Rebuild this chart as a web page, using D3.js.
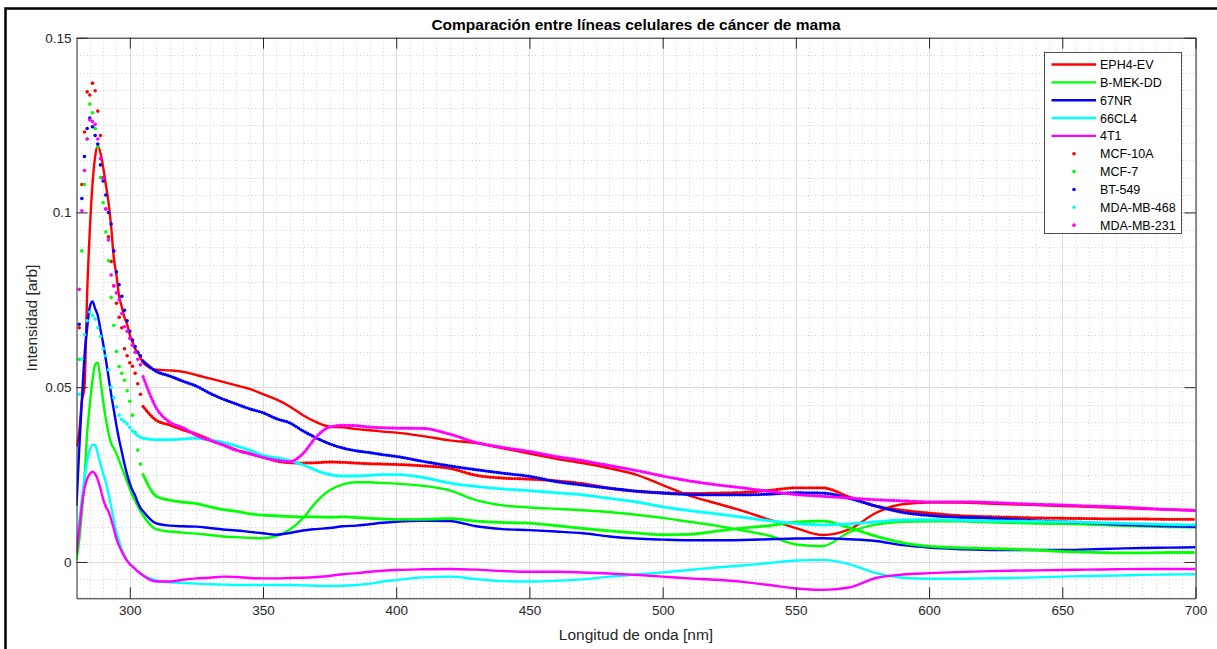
<!DOCTYPE html>
<html>
<head>
<meta charset="utf-8">
<script src="https://cdn.jsdelivr.net/npm/d3@7/dist/d3.min.js"></script>
<style>
    body { margin: 0; background: #ffffff; }
    text { font-family: "Liberation Sans", Arial, Helvetica, sans-serif; }
</style>
</head>
<body>
<svg id="chart" width="1217" height="649"></svg>
<script>

// Wavelength grid [nm]
const wavelengths = [
    280, 281, 282, 283, 284, 285, 286, 287, 288, 289, 290, 291, 292, 293, 294, 295, 296, 297, 298, 299, 300, 301, 302, 303, 304, 305,
    310, 315, 320, 325, 330, 335, 340, 345, 350, 355, 360, 365, 370, 375, 380, 385, 390, 395, 400,
    410, 420, 430, 440, 450, 460, 470, 480, 490, 500, 510, 520, 530, 540, 550, 560, 570, 580, 590, 600, 610, 620, 630, 640, 650, 660, 670, 680, 690, 700
];

// Tick values
const xTicks = [300, 350, 400, 450, 500, 550, 600, 650, 700];
const yTicks = [0, 0.05, 0.1, 0.15];

// Murine cell lines (solid lines)
const eph4ev = [
    0.033, 0.037, 0.046, 0.050, 0.077, 0.095, 0.108, 0.116, 0.119, 0.117, 0.113, 0.108, 0.103, 0.096, 0.087, 0.082, 0.076, 0.073, 0.070, 0.068, 0.065, 0.063, 0.061, 0.060, 0.0585, 0.057,
    0.055, 0.0548, 0.0544, 0.0535, 0.0525, 0.0515, 0.0505, 0.0495, 0.048, 0.0465, 0.0445, 0.042, 0.040, 0.0387, 0.0385, 0.038, 0.0377, 0.0373, 0.037,
    0.036, 0.0348, 0.034, 0.0325, 0.031, 0.0295, 0.0283, 0.0268, 0.025, 0.022, 0.019, 0.0168, 0.0146, 0.0121, 0.0097, 0.0077, 0.0093, 0.014, 0.0165, 0.017, 0.017, 0.0168, 0.0165, 0.0163, 0.016, 0.0158, 0.0155, 0.0152, 0.015, 0.0148
];
const bmekdd = [
    0.0006, 0.006, 0.014, 0.024, 0.037, 0.045, 0.052, 0.0565, 0.057, 0.052, 0.046, 0.041, 0.037, 0.034, 0.0325, 0.031, 0.029, 0.027, 0.025, 0.023, 0.021, 0.019, 0.0175, 0.016, 0.0145, 0.0133,
    0.0093, 0.0087, 0.0084, 0.0081, 0.0077, 0.0073, 0.0071, 0.0069, 0.0068, 0.0074, 0.0092, 0.0125, 0.0172, 0.0205, 0.0222, 0.0228, 0.0228, 0.0226, 0.0224,
    0.0218, 0.0205, 0.0177, 0.0162, 0.0156, 0.0152, 0.0148, 0.0143, 0.0135, 0.0126, 0.0115, 0.0104, 0.009, 0.0075, 0.005, 0.0045, 0.0085, 0.0107, 0.0115, 0.0116, 0.0116, 0.0114, 0.0112, 0.011, 0.0109, 0.0107, 0.0104, 0.0102, 0.010, 0.0099
];
const nr67 = [
    0.016, 0.032, 0.046, 0.059, 0.067, 0.073, 0.0745, 0.0725, 0.0705, 0.0665, 0.0625, 0.058, 0.053, 0.048, 0.0435, 0.039, 0.035, 0.0315, 0.028, 0.025, 0.0225, 0.0205, 0.019, 0.017, 0.0155, 0.0145,
    0.011, 0.0104, 0.0102, 0.0101, 0.0097, 0.0093, 0.009, 0.0086, 0.0082, 0.0078, 0.0083, 0.009, 0.0094, 0.0097, 0.0102, 0.0104, 0.0108, 0.0112, 0.0115,
    0.0118, 0.0117, 0.0102, 0.0094, 0.0091, 0.0087, 0.0082, 0.0073, 0.0067, 0.0064, 0.0062, 0.0062, 0.0063, 0.0065, 0.0067, 0.0068, 0.0065, 0.006, 0.0048, 0.0041, 0.0037, 0.0035, 0.0034, 0.0034, 0.0034, 0.0036, 0.0038, 0.004, 0.0041, 0.0042
];
const cl66 = [
    0.0044, 0.011, 0.018, 0.024, 0.029, 0.032, 0.0335, 0.0335, 0.031, 0.028, 0.0254, 0.0228, 0.0195, 0.0158, 0.012, 0.0085, 0.006, 0.0035, 0.0018, 0.0005, -0.0005, -0.0013, -0.002, -0.0027, -0.0033, -0.0038,
    -0.0053, -0.0058, -0.006, -0.0062, -0.0064, -0.0065, -0.0066, -0.0066, -0.0066, -0.0066, -0.0066, -0.0067, -0.0068, -0.0069, -0.0068, -0.0066, -0.0062, -0.0056, -0.0052,
    -0.0044, -0.0042, -0.0049, -0.0055, -0.0056, -0.0054, -0.005, -0.0042, -0.0036, -0.003, -0.0023, -0.0016, -0.001, -0.0003, 0.0004, 0.0006, -0.0006, -0.0032, -0.0045, -0.0048, -0.0048, -0.0047, -0.0046, -0.0044, -0.0042, -0.004, -0.0039, -0.0037, -0.0036, -0.0035
];
const t41 = [
    0.0025, 0.009, 0.016, 0.021, 0.0238, 0.0252, 0.0258, 0.0252, 0.0235, 0.021, 0.018, 0.0158, 0.0145, 0.0122, 0.0095, 0.0066, 0.0046, 0.003, 0.0015, 0.0003, -0.0006, -0.0013, -0.002, -0.0027, -0.0033, -0.0039,
    -0.0056, -0.0056, -0.0051, -0.0047, -0.0045, -0.0042, -0.0043, -0.0046, -0.0047, -0.0047, -0.0046, -0.0045, -0.0043, -0.004, -0.0035, -0.0032, -0.0028, -0.0025, -0.0023,
    -0.0021, -0.002, -0.0022, -0.0026, -0.0028, -0.0028, -0.003, -0.0033, -0.0037, -0.0042, -0.0047, -0.0051, -0.0057, -0.0066, -0.0076, -0.008, -0.0073, -0.0046, -0.0036, -0.0032, -0.0029, -0.0027, -0.0025, -0.0024, -0.0023, -0.0022, -0.0021, -0.002, -0.002, -0.002
];

// Human cell lines (dots)
const mcf10a = [
    null, 0.067, 0.108, 0.123, 0.1345, 0.1336, 0.137, 0.1348, 0.129, 0.122, 0.110, 0.101, 0.093, 0.086, 0.079, 0.074, 0.070, 0.067, 0.061, 0.059, 0.057, 0.056, 0.054, 0.051, 0.048, 0.0445,
    0.0405, 0.0392, 0.0378, 0.0366, 0.035, 0.0335, 0.032, 0.031, 0.030, 0.0289, 0.0284, 0.0283, 0.0284, 0.0286, 0.0285, 0.0283, 0.0281, 0.028, 0.0279,
    0.0275, 0.0268, 0.0248, 0.024, 0.0237, 0.0232, 0.0224, 0.0211, 0.0202, 0.0198, 0.0196, 0.0197, 0.0199, 0.0205, 0.0212, 0.0212, 0.0186, 0.016, 0.0148, 0.014, 0.0133, 0.013, 0.0128, 0.0126, 0.0125, 0.0124, 0.0123, 0.0123, 0.0122, 0.0122
];
const mcf7 = [
    null, 0.058, 0.089, 0.108, 0.121, 0.131, 0.1285, 0.124, 0.1187, 0.110, 0.1028, 0.0944, 0.0862, 0.0757, 0.0677, 0.0602, 0.0559, 0.054, 0.052, 0.049, 0.046, 0.042, 0.037, 0.032, 0.028, 0.025,
    0.0188, 0.0177, 0.0171, 0.0167, 0.0158, 0.015, 0.0145, 0.0138, 0.0134, 0.0132, 0.013, 0.0129, 0.0129, 0.0128, 0.0129, 0.0127, 0.0125, 0.0123, 0.0122,
    0.0122, 0.0124, 0.0117, 0.0113, 0.0111, 0.0104, 0.0096, 0.0089, 0.0083, 0.0078, 0.0079, 0.0088, 0.0097, 0.0104, 0.0114, 0.0117, 0.0098, 0.0074, 0.0055, 0.0045, 0.0041, 0.0039, 0.0037, 0.0034, 0.003, 0.0028, 0.0026, 0.0026, 0.0027, 0.0027
];
const bt549 = [
    null, 0.068, 0.104, 0.116, 0.124, 0.127, 0.1245, 0.122, 0.1196, 0.1136, 0.109, 0.105, 0.100, 0.0967, 0.089, 0.083, 0.0793, 0.076, 0.072, 0.069, 0.066, 0.0635, 0.0616, 0.060, 0.059, 0.0575,
    0.0545, 0.0532, 0.0517, 0.0503, 0.0483, 0.0466, 0.0452, 0.0438, 0.0427, 0.041, 0.0398, 0.0375, 0.0355, 0.0338, 0.0326, 0.0318, 0.0313, 0.0307, 0.0302,
    0.0288, 0.0275, 0.0264, 0.0254, 0.0245, 0.023, 0.022, 0.0211, 0.0203, 0.0197, 0.0193, 0.0192, 0.0192, 0.0194, 0.0198, 0.0197, 0.0182, 0.016, 0.0142, 0.0133, 0.0128, 0.0126, 0.0122, 0.0118, 0.0115, 0.0112, 0.0108, 0.0105, 0.0103, 0.0101
];
const mdamb468 = [
    null, 0.048, 0.058, 0.065, 0.069, 0.0715, 0.0705, 0.0695, 0.067, 0.0645, 0.061, 0.059, 0.055, 0.050, 0.047, 0.0444, 0.042, 0.0408, 0.0402, 0.0395, 0.0385, 0.0375, 0.0368, 0.0362, 0.0357, 0.0354,
    0.035, 0.035, 0.0352, 0.0354, 0.0349, 0.0342, 0.0332, 0.032, 0.0305, 0.0298, 0.029, 0.0278, 0.0262, 0.025, 0.0246, 0.0246, 0.0248, 0.025, 0.025,
    0.0242, 0.0226, 0.0216, 0.0209, 0.0204, 0.0198, 0.0192, 0.0182, 0.0172, 0.0158, 0.0147, 0.0138, 0.0128, 0.0118, 0.011, 0.0106, 0.0109, 0.0115, 0.012, 0.0121, 0.012, 0.0118, 0.0117, 0.0116, 0.0115, 0.0113, 0.0111, 0.0109, 0.0107, 0.0106
];
const mdamb231 = [
    null, 0.078, 0.1005, 0.112, 0.121, 0.1265, 0.126, 0.1252, 0.121, 0.1154, 0.1098, 0.101, 0.0921, 0.0821, 0.079, 0.077, 0.075, 0.0711, 0.0673, 0.066, 0.064, 0.062, 0.060, 0.058, 0.0564, 0.053,
    0.044, 0.040, 0.0384, 0.0362, 0.0348, 0.0335, 0.032, 0.031, 0.0299, 0.0291, 0.0287, 0.031, 0.0358, 0.0386, 0.0391, 0.039, 0.0386, 0.0384, 0.0383,
    0.0382, 0.0366, 0.0342, 0.0328, 0.0316, 0.0302, 0.029, 0.0276, 0.0262, 0.0246, 0.0232, 0.0221, 0.0212, 0.0202, 0.0193, 0.0188, 0.0183, 0.0178, 0.0175, 0.0172, 0.0172, 0.0171, 0.0168, 0.0165, 0.0163, 0.016, 0.0158, 0.0154, 0.015, 0.0147
];

const lineNames = ["EPH4-EV", "B-MEK-DD", "67NR", "66CL4", "4T1"];
const dotNames = ["MCF-10A", "MCF-7", "BT-549", "MDA-MB-468", "MDA-MB-231"];
const colors = ["#ff0000", "#00ff00", "#0000ff", "#00ffff", "#ff00ff"];

const lineValues = [eph4ev, bmekdd, nr67, cl66, t41];
const dotValues = [mcf10a, mcf7, bt549, mdamb468, mdamb231];

// Layout
const width = 1217, height = 649;
const plot = { left: 76.5, right: 1195.5, top: 37.7, bottom: 598.3 };
const axisColor = "#262626";

const svg = d3.select("#chart");

// Scales
const x = d3.scaleLinear().domain([280, 700]).range([plot.left, plot.right]);
const y = d3.scaleLinear().domain([-0.0104, 0.15]).range([plot.bottom, plot.top]);

// White background and figure frame
svg.append("rect").attr("width", width).attr("height", height).attr("fill", "#ffffff");
svg.append("path")
    .attr("d", "M5.5," + height + "V8.5H" + (width + 2))
    .attr("fill", "none")
    .attr("stroke", "#000000")
    .attr("stroke-width", 2.5);

// Clip for data
svg.append("defs").append("clipPath").attr("id", "plotClip")
    .append("rect")
    .attr("x", plot.left).attr("y", plot.top)
    .attr("width", plot.right - plot.left).attr("height", plot.bottom - plot.top);

// Minor grid (dotted)
const gridG = svg.append("g");
const minorX = d3.range(285, 700, 5).filter(v => v % 50 != 0);
const minorY = d3.range(-10, 150, 5).map(v => v / 1000).filter(v => Math.round(v * 1000) % 50 != 0);

gridG.selectAll(".minorX").data(minorX).enter()
    .append("line")
    .attr("x1", d => Math.round(x(d)) + 0.5).attr("x2", d => Math.round(x(d)) + 0.5)
    .attr("y1", plot.top).attr("y2", plot.bottom)
    .attr("stroke", "#c8c8c8").attr("stroke-width", 0.8).attr("stroke-dasharray", "1,2.5");

gridG.selectAll(".minorY").data(minorY).enter()
    .append("line")
    .attr("x1", plot.left).attr("x2", plot.right)
    .attr("y1", d => Math.round(y(d)) + 0.5).attr("y2", d => Math.round(y(d)) + 0.5)
    .attr("stroke", "#c8c8c8").attr("stroke-width", 0.8).attr("stroke-dasharray", "1,2.5");

// Major grid (solid)
gridG.selectAll(".majorX").data(xTicks).enter()
    .append("line")
    .attr("x1", d => Math.round(x(d)) + 0.5).attr("x2", d => Math.round(x(d)) + 0.5)
    .attr("y1", plot.top).attr("y2", plot.bottom)
    .attr("stroke", "#dcdcdc").attr("stroke-width", 1);

gridG.selectAll(".majorY").data(yTicks).enter()
    .append("line")
    .attr("x1", plot.left).attr("x2", plot.right)
    .attr("y1", d => Math.round(y(d)) + 0.5).attr("y2", d => Math.round(y(d)) + 0.5)
    .attr("stroke", "#dcdcdc").attr("stroke-width", 1);

// Data group
const dataG = svg.append("g").attr("clip-path", "url(#plotClip)");

const toPoints = values => wavelengths.map((w, i) => ({ x: w, y: values[i] }));

const line = d3.line()
    .defined(d => d.y != null)
    .x(d => x(d.x))
    .y(d => y(d.y))
    .curve(d3.curveMonotoneX);

// Solid lines
lineValues.forEach((values, i) => {
    dataG.append("path")
        .datum(toPoints(values))
        .attr("d", line)
        .attr("fill", "none")
        .attr("stroke", colors[i])
        .attr("stroke-width", 2.4)
        .attr("stroke-linejoin", "round");
});

// Dotted series: single markers on the peak, dotted trace on the slow tail
const tailStart = wavelengths.indexOf(305);
dotValues.forEach((values, i) => {
    let pts = toPoints(values);

    dataG.append("path")
        .datum(pts.slice(tailStart))
        .attr("d", line)
        .attr("fill", "none")
        .attr("stroke", colors[i])
        .attr("stroke-width", 3.3)
        .attr("stroke-linecap", "round")
        .attr("stroke-dasharray", "0,2.66");

    dataG.selectAll(null)
        .data(pts.slice(0, tailStart).filter(d => d.y != null))
        .enter()
        .append("circle")
        .attr("cx", d => x(d.x))
        .attr("cy", d => y(d.y))
        .attr("r", 1.8)
        .attr("fill", colors[i]);
});

// Axes (ticks inward, box on)
const tickLen = 11;
const xAxis = svg.append("g")
    .attr("transform", "translate(0," + plot.bottom + ")")
    .call(d3.axisBottom(x).tickValues(xTicks).tickSizeInner(-tickLen).tickSizeOuter(0).tickPadding(7).tickFormat(d => String(d)));
const xAxisTop = svg.append("g")
    .attr("transform", "translate(0," + plot.top + ")")
    .call(d3.axisTop(x).tickValues(xTicks).tickSizeInner(-tickLen).tickSizeOuter(0).tickFormat(""));
const yAxis = svg.append("g")
    .attr("transform", "translate(" + plot.left + ",0)")
    .call(d3.axisLeft(y).tickValues(yTicks).tickSizeInner(-tickLen).tickSizeOuter(0).tickPadding(5).tickFormat(d => String(d)));
const yAxisRight = svg.append("g")
    .attr("transform", "translate(" + plot.right + ",0)")
    .call(d3.axisRight(y).tickValues(yTicks).tickSizeInner(-tickLen).tickSizeOuter(0).tickFormat(""));

[xAxis, xAxisTop, yAxis, yAxisRight].forEach(g => {
    g.selectAll("path.domain").attr("stroke", axisColor).attr("stroke-width", 1);
    g.selectAll(".tick line").attr("stroke", axisColor).attr("stroke-width", 1);
    g.selectAll(".tick text")
        .attr("fill", axisColor)
        .style("font-size", "13.5px")
        .style("font-family", "'Liberation Sans', Arial, sans-serif");
});

// Title and axis labels
svg.append("text")
    .attr("x", (plot.left + plot.right) / 2)
    .attr("y", 30)
    .attr("text-anchor", "middle")
    .style("font-size", "15.5px")
    .style("font-weight", "bold")
    .attr("fill", "#000000")
    .text("Comparación entre líneas celulares de cáncer de mama");

svg.append("text")
    .attr("x", (plot.left + plot.right) / 2)
    .attr("y", 640)
    .attr("text-anchor", "middle")
    .style("font-size", "15.5px")
    .attr("fill", axisColor)
    .text("Longitud de onda [nm]");

svg.append("text")
    .attr("transform", "translate(37," + ((plot.top + plot.bottom) / 2) + ") rotate(-90)")
    .attr("text-anchor", "middle")
    .style("font-size", "15.5px")
    .attr("fill", axisColor)
    .text("Intensidad [arb]");

// Legend
const legend = { x: 1044.5, y: 52.5, w: 137, h: 181, row: 17.85 };
const legendG = svg.append("g");
legendG.append("rect")
    .attr("x", legend.x).attr("y", legend.y)
    .attr("width", legend.w).attr("height", legend.h)
    .attr("fill", "#ffffff")
    .attr("stroke", axisColor)
    .attr("stroke-width", 0.8);

lineNames.concat(dotNames).forEach((name, i) => {
    let rowY = legend.y + 12 + i * legend.row;
    let color = colors[i % 5];
    if (i < 5) {
        legendG.append("line")
            .attr("x1", legend.x + 7).attr("x2", legend.x + 51.5)
            .attr("y1", rowY).attr("y2", rowY)
            .attr("stroke", color).attr("stroke-width", 2.4);
    } else {
        legendG.append("circle")
            .attr("cx", legend.x + 29.5).attr("cy", rowY)
            .attr("r", 1.8).attr("fill", color);
    }
    legendG.append("text")
        .attr("x", legend.x + 55.5)
        .attr("y", rowY)
        .attr("dy", "0.36em")
        .style("font-size", "12.5px")
        .attr("fill", "#000000")
        .text(name);
});

</script>
</body>
</html>
